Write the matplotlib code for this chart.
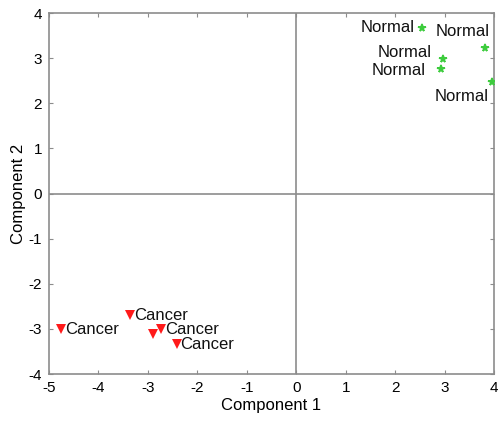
import matplotlib.pyplot as plt

plt.rcParams['font.family'] = ['Liberation Sans', 'DejaVu Sans']
plt.rcParams['axes.unicode_minus'] = False

# PCA scores
normal_x = [2.54, 3.81, 2.97, 2.92, 3.97]
normal_y = [3.67, 3.22, 2.97, 2.77, 2.48]
cancer_x = [-4.76, -3.36, -2.73, -2.89, -2.42]
cancer_y = [-3.01, -2.70, -3.01, -3.12, -3.34]
cancer_labeled = [True, True, True, False, True]

x_ticks = list(range(-5, 5))
y_ticks = list(range(-4, 5))

# label offsets (pixels) for the crowded Normal group
normal_offsets = [(-7, 0), (5, 17), (-11, 7), (-15, -2), (-4, -15)]

grey = '#8c8c8c'

fig = plt.figure(figsize=(5.02, 4.21), dpi=100)
ax = fig.add_axes([0.0976, 0.1116, 0.8864, 0.8575])

ax.axhline(0, color=grey, lw=1.2, zorder=1)
ax.axvline(0, color=grey, lw=1.2, zorder=1)

ax.plot(normal_x, normal_y, ls='none', marker='*', ms=5.5, color='#3dcc3d',
        markeredgewidth=1.2, zorder=3)
ax.plot(cancer_x, cancer_y, ls='none', marker='v', ms=7, color='#ff1a1a',
        markeredgewidth=0, zorder=3)

for x, y, (dx, dy) in zip(normal_x, normal_y, normal_offsets):
    ax.annotate('Normal', (x, y), xytext=(dx, dy), textcoords='offset pixels',
                ha='right', va='center', fontsize=12, color='#111111')

for x, y, lab in zip(cancer_x, cancer_y, cancer_labeled):
    if lab:
        ax.annotate('Cancer', (x, y), xytext=(4, 0), textcoords='offset pixels',
                    ha='left', va='center', fontsize=12, color='#111111')

ax.set_xlim(-5, 4)
ax.set_ylim(-4, 4)
ax.set_xticks(x_ticks)
ax.set_yticks(y_ticks)
ax.tick_params(direction='in', length=3, color=grey, labelsize=11,
               top=True, right=True, pad=5)
for s in ax.spines.values():
    s.set_color(grey)
    s.set_linewidth(1.2)

ax.set_xlabel('Component 1', fontsize=12, labelpad=2)
ax.set_ylabel('Component 2', fontsize=12, labelpad=2)

fig.savefig('out.png', dpi=100)
